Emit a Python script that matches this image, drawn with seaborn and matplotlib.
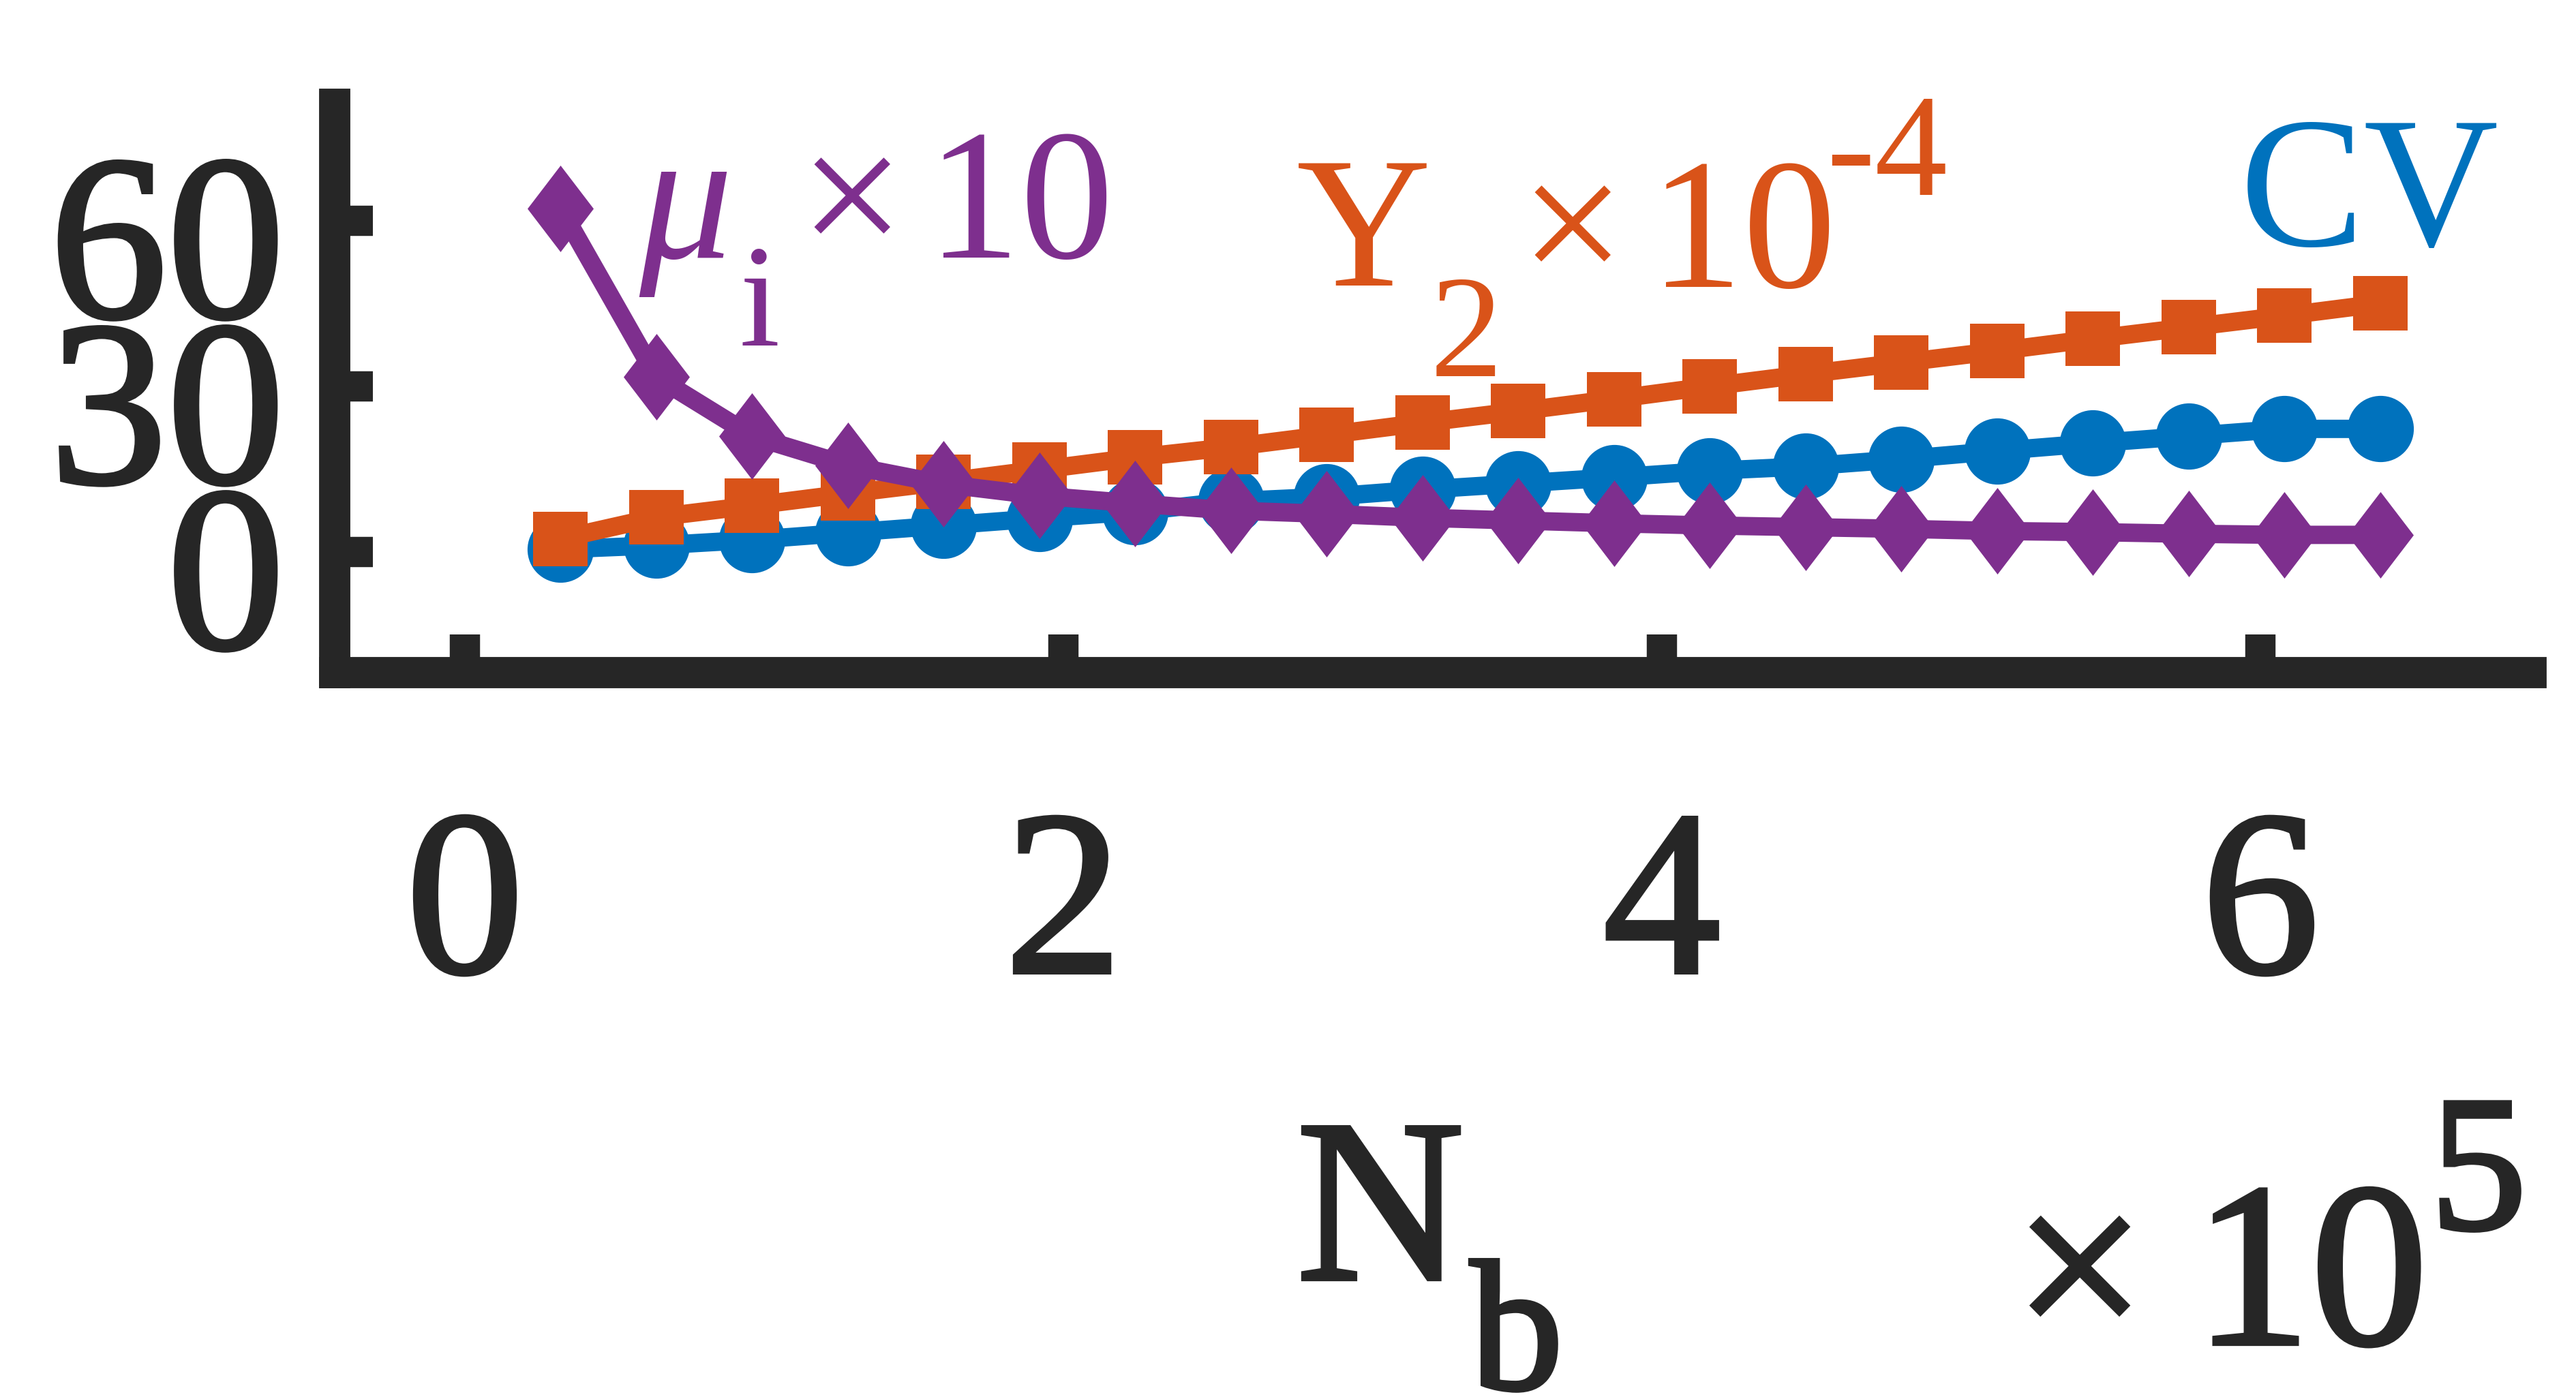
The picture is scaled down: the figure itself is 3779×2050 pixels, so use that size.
import numpy as np
import pandas as pd
import matplotlib
matplotlib.use("Agg")
import matplotlib.pyplot as plt
import matplotlib.patheffects as pe
from matplotlib.path import Path
from matplotlib.transforms import ScaledTranslation
import seaborn as sns

# ---------------- data ----------------
nb = [0.32, 0.64, 0.96, 1.28, 1.60, 1.92, 2.24, 2.56, 2.88, 3.20,
      3.52, 3.84, 4.16, 4.48, 4.80, 5.12, 5.44, 5.76, 6.08, 6.40]
cv = [0.5, 1.2, 2.2, 3.5, 4.8, 6.1, 7.3, 9.2, 10.0, 11.3,
      12.4, 13.5, 14.7, 15.5, 16.8, 18.3, 19.7, 21.0, 22.3, 22.3]
y2 = [2.4, 6.3, 8.4, 10.6, 12.7, 14.9, 17.1, 19.0, 21.2, 23.4,
      25.5, 27.7, 30.0, 32.2, 34.3, 36.4, 38.6, 40.7, 42.8, 45.0]
mu = [62.2, 31.7, 21.0, 15.7, 12.3, 10.2, 8.8, 7.5, 6.9, 6.2,
      5.7, 5.2, 4.8, 4.5, 4.2, 3.8, 3.6, 3.3, 3.1, 3.1]
xticks = [0, 2, 4, 6]
yticks = [0, 30, 60]

BLUE = "#0072BD"
ORANGE = "#D95319"
PURPLE = "#7E2F8E"
INK = "#262626"

sns.set_theme(style="white")
plt.rcParams["font.family"] = ["Liberation Serif", "DejaVu Serif"]

W, H, DPI = 3779, 2050, 100
fig = plt.figure(figsize=(W / DPI, H / DPI), dpi=DPI)
fig.patch.set_facecolor("white")

# axes box (pixel coordinates of the frame)
left_px, right_px, top_px, bottom_px = 491, 3713, 153, 987
ax = fig.add_axes([left_px / W, 1 - bottom_px / H,
                   (right_px - left_px) / W, (bottom_px - top_px) / H])
ax.set_facecolor("white")

df = pd.DataFrame({"Nb": nb, "CV": cv, "Y2": y2, "mu": mu})

diamond = Path([(0, 1), (0.764, 0), (0, -1), (-0.764, 0), (0, 1)],
               [Path.MOVETO, Path.LINETO, Path.LINETO, Path.LINETO, Path.CLOSEPOLY])

lw = 19.4
sns.lineplot(data=df, x="Nb", y="CV", ax=ax, color=BLUE, linewidth=lw,
             marker="o", markersize=70, markeredgewidth=0, markerfacecolor=BLUE)
sns.lineplot(data=df, x="Nb", y="Y2", ax=ax, color=ORANGE, linewidth=lw,
             marker="s", markersize=57.6, markeredgewidth=0, markerfacecolor=ORANGE)
sns.lineplot(data=df, x="Nb", y="mu", ax=ax, color=PURPLE, linewidth=lw,
             marker=diamond, markersize=91.4, markeredgewidth=0, markerfacecolor=PURPLE)

ax.set_xlim(-0.435, 6.904)
ax.set_ylim(-21.85, 81.1)
ax.set_xlabel("")
ax.set_ylabel("")
ax.grid(False)

for side in ["top", "right"]:
    ax.spines[side].set_visible(False)
for side in ["left", "bottom"]:
    sp = ax.spines[side]
    sp.set_linewidth(33)
    sp.set_color(INK)
    sp.set_capstyle("projecting")

# black text in the reference is a slightly heavier Times: thicken with a thin stroke
heavy = [pe.withStroke(linewidth=4.5, foreground=INK, joinstyle="miter")]

ax.set_xticks(xticks)
ax.set_yticks(yticks)
ax.set_xticklabels([str(v) for v in xticks], fontsize=248, color=INK)
ax.set_yticklabels([str(v) for v in yticks], fontsize=248, color=INK)
ax.tick_params(axis="both", which="major", direction="in", length=40, width=32,
               color=INK, bottom=True, left=True, top=False, right=False)
ax.tick_params(axis="x", pad=145)
ax.tick_params(axis="y", pad=53)

# y tick labels sit slightly below their ticks in the reference
shift = ScaledTranslation(0, -22 / DPI, fig.dpi_scale_trans)
for lab in ax.get_yticklabels():
    lab.set_transform(lab.get_transform() + shift)
    lab.set_path_effects(heavy)
for lab in ax.get_xticklabels():
    lab.set_path_effects(heavy)


def ftext(xp, yp, s, **kw):
    fig.text(xp / W, 1 - yp / H, s, ha="center", va="baseline", **kw)


# purple label  mu_i x10
ftext(1006, 378, "\u03bc", fontsize=197, color=PURPLE, fontstyle="italic")
ftext(1114, 507, "i", fontsize=154, color=PURPLE)
ftext(1250, 378, "\u00d7", fontsize=197, color=PURPLE)
ftext(1497, 378, "10", fontsize=197, color=PURPLE)

# orange label  Y_2 x10^-4
ftext(2001, 419, "Y", fontsize=197, color=ORANGE)
ftext(2151, 552, "2", fontsize=154, color=ORANGE)
ftext(2307, 419, "\u00d7", fontsize=197, color=ORANGE)
ftext(2557, 421, "10", fontsize=197, color=ORANGE)
ftext(2768, 286, "-4", fontsize=154, color=ORANGE)

# blue label
ftext(3476, 360, "CV", fontsize=197, color=BLUE)

# x-axis label N_b and multiplier x10^5
ftext(2025, 1877, "N", fontsize=245, color=INK, path_effects=heavy)
ftext(2225, 2038, "b", fontsize=196, color=INK, path_effects=heavy)
ftext(3051, 1972, "\u00d7", fontsize=247, color=INK, path_effects=heavy)
ftext(3390, 1972, "10", fontsize=247, color=INK, path_effects=heavy)
ftext(3636, 1803, "5", fontsize=204, color=INK, path_effects=heavy)

fig.savefig("out.png", dpi=DPI, facecolor="white")
